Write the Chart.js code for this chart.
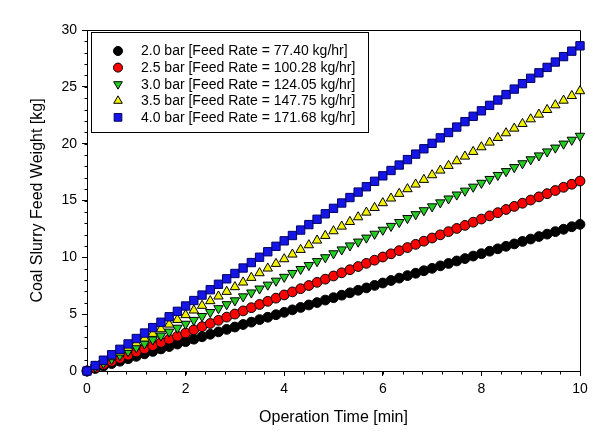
<!DOCTYPE html>
<html><head><meta charset="utf-8">
<script src="https://cdn.jsdelivr.net/npm/chart.js@4.4.0/dist/chart.umd.min.js"></script>
<style>html,body{margin:0;padding:0;background:#fff;}#wrap{width:612px;height:435px;}</style>
</head><body><div id="wrap"><canvas id="c" width="612" height="435"></canvas></div>
<script>
// Operation time in seconds (converted to minutes for the x axis)
const timeSeconds = [0,10,20,30,40,50,60,70,80,90,100,110,120,130,140,150,160,170,180,190,200,210,220,230,240,250,260,270,280,290,300,310,320,330,340,350,360,370,380,390,400,410,420,430,440,450,460,470,480,490,500,510,520,530,540,550,560,570,580,590,600];

const seriesLabels = [
  "2.0 bar [Feed Rate = 77.40 kg/hr]",
  "2.5 bar [Feed Rate = 100.28 kg/hr]",
  "3.0 bar [Feed Rate = 124.05 kg/hr]",
  "3.5 bar [Feed Rate = 147.75 kg/hr]",
  "4.0 bar [Feed Rate = 171.68 kg/hr]"
];

const weight20 = [0,0.22,0.43,0.65,0.86,1.08,1.29,1.51,1.72,1.94,2.15,2.37,2.58,2.80,3.01,3.23,3.44,3.66,3.87,4.09,4.30,4.52,4.73,4.95,5.16,5.38,5.59,5.81,6.02,6.24,6.45,6.67,6.88,7.10,7.31,7.53,7.74,7.96,8.17,8.39,8.60,8.82,9.03,9.25,9.46,9.68,9.89,10.11,10.32,10.54,10.75,10.97,11.18,11.40,11.61,11.83,12.04,12.26,12.47,12.69,12.90];
const weight25 = [0,0.28,0.56,0.84,1.11,1.39,1.67,1.95,2.23,2.51,2.79,3.06,3.34,3.62,3.90,4.18,4.46,4.74,5.01,5.29,5.57,5.85,6.13,6.41,6.69,6.96,7.24,7.52,7.80,8.08,8.36,8.64,8.91,9.19,9.47,9.75,10.03,10.31,10.59,10.86,11.14,11.42,11.70,11.98,12.26,12.54,12.81,13.09,13.37,13.65,13.93,14.21,14.48,14.76,15.04,15.32,15.60,15.88,16.16,16.43,16.71];
const weight30 = [0,0.34,0.69,1.03,1.38,1.72,2.07,2.41,2.76,3.10,3.45,3.79,4.14,4.48,4.82,5.17,5.51,5.86,6.20,6.55,6.89,7.24,7.58,7.93,8.27,8.61,8.96,9.30,9.65,9.99,10.34,10.68,11.03,11.37,11.72,12.06,12.41,12.75,13.09,13.44,13.78,14.13,14.47,14.82,15.16,15.51,15.85,16.20,16.54,16.88,17.23,17.57,17.92,18.26,18.61,18.95,19.30,19.64,19.99,20.33,20.68];
const weight35 = [0,0.41,0.82,1.23,1.64,2.05,2.46,2.87,3.28,3.69,4.10,4.51,4.93,5.34,5.75,6.16,6.57,6.98,7.39,7.80,8.21,8.62,9.03,9.44,9.85,10.26,10.67,11.08,11.49,11.90,12.31,12.72,13.13,13.54,13.95,14.36,14.78,15.19,15.60,16.01,16.42,16.83,17.24,17.65,18.06,18.47,18.88,19.29,19.70,20.11,20.52,20.93,21.34,21.75,22.16,22.57,22.98,23.39,23.80,24.21,24.63];
const weight40 = [0,0.48,0.95,1.43,1.91,2.38,2.86,3.34,3.82,4.29,4.77,5.25,5.72,6.20,6.68,7.15,7.63,8.11,8.58,9.06,9.54,10.01,10.49,10.97,11.45,11.92,12.40,12.88,13.35,13.83,14.31,14.78,15.26,15.74,16.21,16.69,17.17,17.64,18.12,18.60,19.08,19.55,20.03,20.51,20.98,21.46,21.94,22.41,22.89,23.37,23.84,24.32,24.80,25.28,25.75,26.23,26.71,27.18,27.66,28.14,28.61];

const xTicks = [0,2,4,6,8,10];
const yTicks = [0,5,10,15,20,25,30];
const xMinorStep = 0.4;
const yMinorStep = 1;

const FONT = "'Liberation Sans', Arial, sans-serif";

const styles = [
  {bg:'#000000', border:'#000000', point:'circle', rot:0, r:4.9},
  {bg:'#ff0000', border:'#000000', point:'circle', rot:0, r:4.9},
  {bg:'#22cc22', border:'#000000', point:'triangle', rot:180, r:5.4},
  {bg:'#f0f000', border:'#000000', point:'triangle', rot:0, r:5.4},
  {bg:'#1515e6', border:'#000060', point:'rect', rot:0, r:5.9}
];
const allWeights = [weight20, weight25, weight30, weight35, weight40];

const datasets = allWeights.map((vals, i) => ({
  label: seriesLabels[i],
  data: timeSeconds.map((s, k) => ({x: s / 60, y: vals[k]})),
  showLine: false,
  clip: false,
  pointStyle: styles[i].point,
  rotation: styles[i].rot,
  pointRadius: styles[i].r,
  pointHoverRadius: styles[i].r,
  backgroundColor: styles[i].bg,
  borderColor: styles[i].border,
  pointBorderWidth: 1,
  order: 5 - i
}));

const framePlugin = {
  id: 'frame',
  beforeDatasetsDraw(chart) {
    const ctx = chart.ctx;
    const a = chart.chartArea;
    const xs = chart.scales.x, ys = chart.scales.y;
    ctx.save();
    ctx.strokeStyle = '#000';
    ctx.lineWidth = 1;
    ctx.beginPath();
    ctx.moveTo(Math.round(a.left) + 0.5, Math.round(a.top) + 0.5);
    ctx.lineTo(Math.round(a.right) + 0.5, Math.round(a.top) + 0.5);
    ctx.lineTo(Math.round(a.right) + 0.5, Math.round(a.bottom) + 0.5);
    for (let v = 0; v <= 10.0001; v += xMinorStep) {
      const px = Math.round(xs.getPixelForValue(v)) + 0.5;
      ctx.moveTo(px, Math.round(a.bottom) + 0.5);
      ctx.lineTo(px, Math.round(a.bottom) + 3.5);
    }
    for (let v = 0; v <= 30.0001; v += yMinorStep) {
      const py = Math.round(ys.getPixelForValue(v)) + 0.5;
      ctx.moveTo(Math.round(a.left) + 0.5, py);
      ctx.lineTo(Math.round(a.left) - 2.5, py);
    }
    ctx.stroke();
    ctx.restore();
  },
  afterDraw(chart) {
    const ctx = chart.ctx;
    ctx.save();
    ctx.strokeStyle = '#000';
    ctx.lineWidth = 1;
    const bx = 91.5, by = 32.5, bw = 277, bh = 100;
    ctx.fillStyle = '#fff';
    ctx.fillRect(bx, by, bw, bh);
    ctx.strokeRect(bx, by, bw, bh);
    ctx.font = '14px ' + FONT;
    ctx.textBaseline = 'middle';
    ctx.textAlign = 'left';
    for (let i = 0; i < seriesLabels.length; i++) {
      const y = 51 + i * 16.6;
      const st = styles[i];
      ctx.fillStyle = st.bg;
      ctx.strokeStyle = st.border;
      ctx.lineWidth = 1;
      Chart.helpers.drawPoint(ctx, {pointStyle: st.point, rotation: st.rot, radius: st.r * 0.92, borderWidth: 1}, 118, y);
      ctx.fillStyle = '#000';
      ctx.fillText(seriesLabels[i], 141, y + 0.5);
    }
    ctx.restore();
  }
};

new Chart(document.getElementById('c'), {
  type: 'scatter',
  data: {datasets},
  options: {
    responsive: false,
    animation: false,
    devicePixelRatio: 1,
    layout: {padding: {left: 0, top: 30, right: 32, bottom: 0}},
    plugins: {legend: {display: false}, tooltip: {enabled: false}},
    scales: {
      x: {
        type: 'linear', min: 0, max: 10,
        afterBuildTicks: s => { s.ticks = xTicks.map(v => ({value: v})); },
        afterFit: s => { s.height = 64; },
        grid: {display: true, drawOnChartArea: false, drawTicks: true, tickLength: 5, color: '#000'},
        border: {display: true, color: '#000', width: 1},
        ticks: {color: '#000', font: {family: FONT, size: 14}, padding: 5, maxRotation: 0},
        title: {display: true, text: 'Operation Time [min]', color: '#000', font: {family: FONT, size: 16, lineHeight: 1}, padding: {top: 0, bottom: 9}}
      },
      y: {
        type: 'linear', min: 0, max: 30,
        afterBuildTicks: s => { s.ticks = yTicks.map(v => ({value: v})); },
        afterFit: s => { s.width = 87; },
        grid: {display: true, drawOnChartArea: false, drawTicks: true, tickLength: 5, color: '#000'},
        border: {display: true, color: '#000', width: 1},
        ticks: {color: '#000', font: {family: FONT, size: 14}, padding: 5},
        title: {display: true, text: 'Coal Slurry Feed Weight [kg]', color: '#000', font: {family: FONT, size: 16, lineHeight: 1}, padding: {top: 30, bottom: 0}}
      }
    }
  },
  plugins: [framePlugin]
});
</script>
</body></html>
